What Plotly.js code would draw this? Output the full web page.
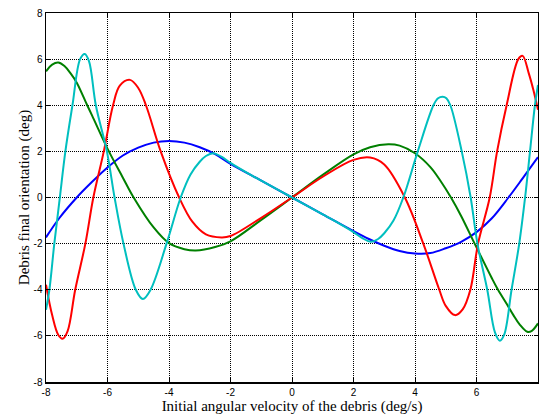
<!DOCTYPE html>
<html>
<head>
<meta charset="utf-8">
<script src="https://cdn.plot.ly/plotly-3.0.1.min.js"></script>
<style>
html,body{margin:0;padding:0;background:#fff;}
#chart{width:539px;height:415px;}
</style>
</head>
<body>
<div id="chart"></div>
<script>
// Series (x: deg/s, y: deg)
var blueX  = [-8, -7.57, -7.0, -6.5, -6, -5.5, -5, -4.5, -4, -3.5, -3, -2.5, -2, -1, 0, 1, 2, 2.5, 3, 3.5, 4, 4.5, 5, 5.5, 6, 6.5, 7.04, 7.5, 8];
var blueY  = [-1.73, -0.9, 0, 0.68, 1.3, 1.82, 2.16, 2.38, 2.45, 2.38, 2.18, 1.88, 1.46, 0.73, 0, -0.73, -1.46, -1.8, -2.09, -2.32, -2.43, -2.41, -2.2, -1.92, -1.5, -0.9, 0, 0.83, 1.75];

var greenX = [-8, -7.8, -7.6, -7.4, -7.2, -7, -6.66, -6.5, -6, -5.5, -5.15, -4.5, -4, -3.5, -3.13, -2.5, -2, -1, 0, 1, 2, 2.54, 3.13, 3.5, 4, 4.5, 4.81, 5.17, 5.5, 5.94, 6.5, 6.7, 7, 7.2, 7.4, 7.65, 7.8, 8];
var greenY = [5.47, 5.76, 5.85, 5.7, 5.38, 4.98, 4.0, 3.55, 2.12, 0.86, 0, -1.3, -1.98, -2.24, -2.3, -2.15, -1.9, -0.97, 0, 0.98, 1.87, 2.18, 2.31, 2.25, 1.92, 1.32, 0.76, 0, -0.8, -2.0, -3.5, -4.0, -4.65, -5.1, -5.5, -5.82, -5.78, -5.46];

var redX   = [-8, -7.8, -7.6, -7.46, -7.3, -7.05, -6.72, -6.46, -6.12, -5.82, -5.6, -5.27, -5.0, -4.75, -4.27, -3.67, -3.24, -2.8, -2.29, -2, -1, 0, 1, 2, 2.54, 3, 3.67, 4.27, 4.79, 5.0, 5.3, 5.55, 5.8, 6.05, 6.43, 6.67, 6.98, 7.36, 7.5, 7.7, 7.85, 8];
var redY   = [-3.78, -5.1, -5.96, -6.12, -5.8, -4.0, -2.0, 0, 2.0, 4.0, 4.85, 5.1, 4.75, 4.0, 2.0, 0, -1.05, -1.6, -1.73, -1.67, -0.88, 0, 0.9, 1.63, 1.73, 1.43, 0, -2.0, -4.0, -4.7, -5.1, -4.85, -4.0, -2.0, 0, 2.0, 4.0, 6.0, 6.14, 5.38, 4.66, 3.8];

var cyanX  = [-8, -7.89, -7.73, -7.55, -7.37, -7.14, -6.89, -6.74, -6.6, -6.38, -6.02, -5.77, -5.48, -5.08, -4.85, -4.6, -4.08, -3.62, -3.3, -3.0, -2.8, -2.56, -2.3, -2, -1.5, -1, 0, 1, 1.5, 2, 2.3, 2.56, 2.8, 3.0, 3.3, 3.62, 4.09, 4.6, 4.75, 4.9, 5.02, 5.15, 5.52, 5.81, 6.03, 6.35, 6.6, 6.76, 6.9, 7.14, 7.39, 7.58, 7.74, 7.9, 8];
var cyanY  = [-4.87, -4.0, -2.0, 0, 2.0, 4.0, 6.0, 6.22, 5.9, 4.0, 2.0, 0, -2.0, -4.0, -4.4, -4.0, -2.0, 0, 1.0, 1.55, 1.8, 1.92, 1.77, 1.5, 1.1, 0.73, 0, -0.73, -1.1, -1.5, -1.77, -1.92, -1.8, -1.55, -1.0, 0, 2.0, 4.0, 4.3, 4.37, 4.3, 4.0, 2.0, 0, -2.0, -4.0, -5.85, -6.21, -5.95, -4.0, -2.0, 0, 2.0, 4.0, 4.88];

var tickVals   = [-8, -6, -4, -2, 0, 2, 4, 6, 8];
var tickLabels = ['-8', '-6', '-4', '-2', '0', '2', '4', '6', '8'];

var xTitle = 'Initial angular velocity of the debris (deg/s)';
var yTitle = 'Debris final orientation (deg)';

function series(x, y, color) {
  return {x: x, y: y, type: 'scatter', mode: 'lines',
          line: {color: color, width: 2, shape: 'spline', smoothing: 1},
          hoverinfo: 'skip', showlegend: false};
}

var data = [
  series(blueX, blueY, '#0000ff'),
  series(greenX, greenY, '#008000'),
  series(redX, redY, '#ff0000'),
  series(cyanX, cyanY, '#00bfbf')
];

var axisCommon = {
  range: [-8, 8],
  tickmode: 'array',
  tickvals: tickVals,
  ticktext: tickLabels,
  ticks: 'inside',
  ticklen: 4,
  tickwidth: 1,
  tickcolor: '#000',
  showline: true,
  linecolor: '#000',
  linewidth: 1.5,
  mirror: 'ticks',
  showgrid: true,
  gridcolor: '#000',
  gridwidth: 1,
  griddash: '1px,1px',
  zeroline: false,
  tickfont: {family: 'Liberation Sans, Arial, sans-serif', size: 10, color: '#000'}
};

var titleFont = {family: 'Liberation Serif, DejaVu Serif, serif', size: 15, color: '#000'};

var layout = {
  width: 539,
  height: 415,
  margin: {l: 46, r: 1, t: 13, b: 33},
  paper_bgcolor: '#fff',
  plot_bgcolor: '#fff',
  xaxis: Object.assign({}, axisCommon, {
    title: {text: xTitle, font: titleFont, standoff: 3}
  }),
  yaxis: Object.assign({}, axisCommon, {
    title: {text: yTitle, font: titleFont, standoff: 0}
  })
};

Plotly.newPlot('chart', data, layout, {staticPlot: true, displayModeBar: false});
</script>
</body>
</html>
